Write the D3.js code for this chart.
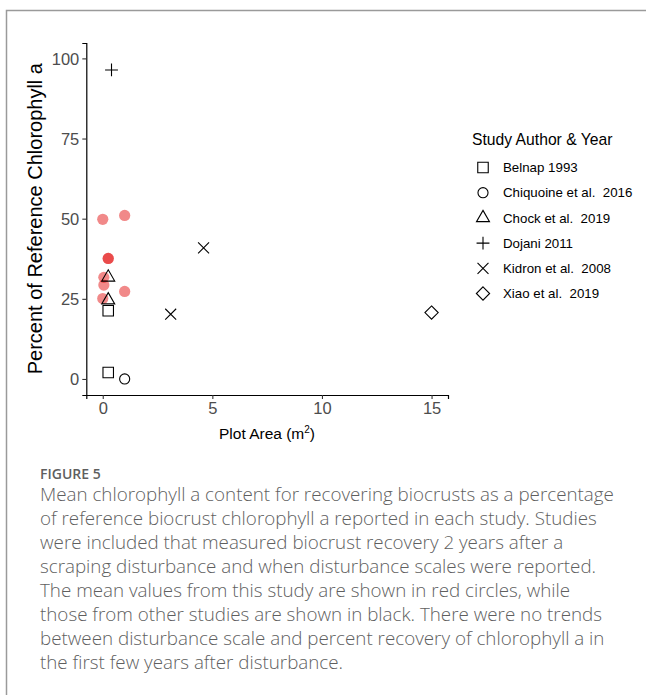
<!DOCTYPE html>
<html>
<head>
<meta charset="utf-8">
<script src="https://cdn.jsdelivr.net/npm/d3@7"></script>
<style>
  body { margin: 0; background: #fff; }
  text { font-family: "Liberation Sans", Arial, Helvetica, sans-serif; }
  .caption { font-family: "Open Sans", "Noto Sans", sans-serif; fill: #5f5f5f; }
</style>
</head>
<body>
<div id="chart"></div>
<script>
// study names (legend order)
const studies = ["Belnap 1993", "Chiquoine et al.  2016", "Chock et al.  2019",
                 "Dojani 2011", "Kidron et al.  2008", "Xiao et al.  2019"];

// plot area (m2) and percent of reference chlorophyll a, per study
const belnapX = [0.25, 0.25],     belnapY = [21.3, 2.0];
const chiquoineX = [1.0],         chiquoineY = [0];
const chockX = [0.25, 0.25],      chockY = [31.7, 24.6];
const dojaniX = [0.4],            dojaniY = [96.4];
const kidronX = [4.6, 3.1],       kidronY = [40.9, 20.2];
const xiaoX = [15],               xiaoY = [20.7];

// this study (red circles)
const thisX = [0, 1.0, 0.25, 0.25, 0.05, 0.05, 0, 1.0];
const thisY = [49.8, 51.0, 37.6, 37.6, 31.7, 29.3, 25.1, 27.3];

const xTicks = [0, 5, 10, 15];
const yTicks = [0, 25, 50, 75, 100];

const captionLines = [
  "Mean chlorophyll a content for recovering biocrusts as a percentage",
  "of reference biocrust chlorophyll a reported in each study. Studies",
  "were included that measured biocrust recovery 2 years after a",
  "scraping disturbance and when disturbance scales were reported.",
  "The mean values from this study are shown in red circles, while",
  "those from other studies are shown in black. There were no trends",
  "between disturbance scale and percent recovery of chlorophyll a in",
  "the first few years after disturbance."
];

const W = 646, H = 695;
const svg = d3.select("#chart").append("svg")
    .attr("width", W).attr("height", H);

svg.append("rect").attr("width", W).attr("height", H).attr("fill", "#fff");

// frame of the figure box
svg.append("path")
    .attr("d", "M6.5," + H + "V10.5H" + W)
    .attr("fill", "none")
    .attr("stroke", "#9a9a9a")
    .attr("stroke-width", 1.5);

const x = d3.scaleLinear().domain([-0.75, 15.75]).range([86.3, 448]);
const y = d3.scaleLinear().domain([-5, 104.8]).range([395, 43]);

// symbol per study (ggplot shapes 0..5)
const shapes = [
  d3.symbol(d3.symbolSquare2, 140),
  d3.symbol(d3.symbolCircle, 80),
  d3.symbol(d3.symbolTriangle2, 121),
  d3.symbol(d3.symbolPlus, 56),
  d3.symbol(d3.symbolX, 80),
  d3.symbol(d3.symbolDiamond2, 112)
];

// axes
const xAxis = svg.append("g")
    .attr("transform", "translate(0,395)")
    .call(d3.axisBottom(x).tickValues(xTicks).tickSizeOuter(0).tickSize(4).tickPadding(3));
const yAxis = svg.append("g")
    .attr("transform", "translate(86.3,0)")
    .call(d3.axisLeft(y).tickValues(yTicks).tickSizeOuter(0).tickSize(4).tickPadding(3));

[xAxis, yAxis].forEach(a => {
  a.select(".domain").attr("stroke", "#000").attr("stroke-width", 1.2);
  a.selectAll(".tick line").attr("stroke", "#333").attr("stroke-width", 1.1);
  a.selectAll(".tick text")
      .attr("fill", "#4d4d4d")
      .style("font-size", "16.5px")
      .style("font-family", "Liberation Sans, Arial, sans-serif");
});
yAxis.selectAll(".tick text").attr("dy", "0.36em");

// axis titles
svg.append("text")
    .attr("x", 267).attr("y", 439)
    .attr("text-anchor", "middle")
    .style("font-size", "15.5px")
    .text("Plot Area (m")
  .append("tspan")
    .attr("dy", -6).style("font-size", "10px").text("2")
  .select(function() { return this.parentNode; })
  .append("tspan")
    .attr("dy", 6).text(")");

svg.append("text")
    .attr("transform", "translate(42," + ((58.3 + 379) / 2 + 0) + ") rotate(-90)")
    .attr("text-anchor", "middle")
    .style("font-size", "20px")
    .text("Percent of Reference Chlorophyll a");

// this study points
const plot = svg.append("g");
plot.selectAll(".red")
    .data(d3.zip(thisX, thisY))
    .enter().append("circle")
    .attr("class", "red")
    .attr("cx", d => x(d[0]))
    .attr("cy", d => y(d[1]))
    .attr("r", 5.6)
    .attr("fill", "rgb(226,8,8)")
    .attr("fill-opacity", 0.48);

// other studies
const series = [
  [belnapX, belnapY], [chiquoineX, chiquoineY], [chockX, chockY],
  [dojaniX, dojaniY], [kidronX, kidronY], [xiaoX, xiaoY]
];
series.forEach((s, i) => {
  plot.selectAll(".s" + i)
      .data(d3.zip(s[0], s[1]))
      .enter().append("path")
      .attr("class", "s" + i)
      .attr("transform", d => "translate(" + x(d[0]) + "," + y(d[1]) + ")")
      .attr("d", shapes[i])
      .attr("fill", "none")
      .attr("stroke", "#000")
      .attr("stroke-width", 1.1);
});

// legend
const legend = svg.append("g");
legend.append("text")
    .attr("x", 472).attr("y", 145)
    .style("font-size", "15.7px")
    .text("Study Author & Year");

const row = legend.selectAll(".row")
    .data(studies)
    .enter().append("g")
    .attr("class", "row")
    .attr("transform", (d, i) => "translate(483," + (167.5 + i * 25.2) + ")");
row.append("path")
    .attr("d", (d, i) => shapes[i]())
    .attr("fill", "none")
    .attr("stroke", "#000")
    .attr("stroke-width", 1.1);
row.append("text")
    .attr("x", 20).attr("y", 4.7)
    .style("font-size", "13.3px")
    .style("white-space", "pre")
    .text(d => d);

// caption
svg.append("text")
    .attr("class", "caption")
    .attr("x", 40).attr("y", 478.5)
    .style("font-size", "14px")
    .style("font-weight", 600)
    .text("FIGURE 5");

svg.selectAll(".capline")
    .data(captionLines)
    .enter().append("text")
    .attr("class", "caption capline")
    .attr("x", 40)
    .attr("y", (d, i) => 501 + i * 24)
    .style("font-size", "18.8px")
    .style("font-weight", 300)
    .text(d => d);
</script>
</body>
</html>
